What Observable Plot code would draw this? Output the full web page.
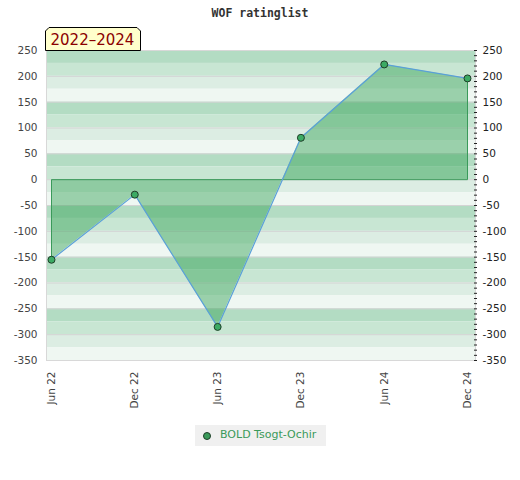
<!DOCTYPE html>
<html><head><meta charset="utf-8">
<script src="https://cdn.jsdelivr.net/npm/d3@7"></script>
<script src="https://cdn.jsdelivr.net/npm/@observablehq/plot@0.6"></script>
<style>
body{margin:0;background:#fff;}
#wrap{position:relative;width:520px;height:480px;font-family:"DejaVu Sans",sans-serif;}
#title{position:absolute;top:6px;left:0;width:520px;text-align:center;font:bold 11.5px "DejaVu Sans Mono",monospace;color:#333;}
#badge{position:absolute;left:45px;top:27px;}
#legend{position:absolute;left:195px;top:425px;width:131px;height:21px;background:#f0f0f0;}
#legend span.dot{position:absolute;left:8px;top:7px;width:6px;height:6px;border-radius:50%;background:#3a9a5a;border:1px solid #1e3d28;}
#legend span.lab{position:absolute;left:25px;top:3px;font-size:11px;color:#3a9a5a;white-space:nowrap;}
#chart{position:absolute;left:0;top:0;}
</style></head>
<body>
<div id="wrap">
  <div id="chart"></div>
  <div id="title">WOF ratinglist</div>
  <svg id="badge" width="97" height="25">
    <polygon points="4,0.5 92,0.5 95.5,4 95.5,23.5 0.5,23.5 0.5,4" fill="#ffffcc" stroke="#000" stroke-width="1"/>
    <text x="5.5" y="18" font-family="DejaVu Sans" font-size="15" fill="#8b0000">2022–2024</text>
  </svg>
  <div id="legend"><span class="dot"></span><span class="lab">BOLD Tsogt-Ochir</span></div>
</div>
<script>
const periods = ["2022-06-01","2022-12-01","2023-06-01","2023-12-01","2024-06-01","2024-12-01"];
const ratings = [-155, -29, -285, 81, 223, 196];
const yTicks = [-350,-300,-250,-200,-150,-100,-50,0,50,100,150,200,250];
const bandColors = ["#b3dcc3","#c8e6d3","#dcede3","#eff7f2"];

const data = periods.map((p,i)=>({date:new Date(p), value:ratings[i]}));
const bands = [];
for (let i = 0; i < 24; i++) {
  const top = 250 - i*25;
  bands.push({y1: top, y2: top - 25, fill: bandColors[i % 4]});
}
const minor = [];
for (let v = -350; v <= 250; v += 10) minor.push(v);
const first = data[0], last = data[data.length-1];
const outline = [
  {date: first.date, value: first.value},
  {date: first.date, value: 0},
  {date: last.date, value: 0},
  {date: last.date, value: last.value}
];

const chart = Plot.plot({
  width: 520, height: 480,
  marginTop: 50, marginBottom: 120, marginLeft: 46, marginRight: 45,
  style: {fontFamily: "DejaVu Sans", fontSize: "10.5px", color: "#444", background: "transparent"},
  x: {type: "utc", domain: [first.date, last.date], insetLeft: 5, insetRight: 8},
  y: {domain: [-350, 250]},
  marks: [
    Plot.rect(bands, {y1: "y1", y2: "y2", fill: "fill"}),
    Plot.ruleY(yTicks, {stroke: "#d4d4d4", strokeWidth: 1}),
    Plot.areaY(data, {x: "date", y: "value", fill: "#2ea050", fillOpacity: 0.44}),
    Plot.line(outline, {x: "date", y: "value", stroke: "#3a9a5a", strokeWidth: 1}),
    Plot.line(data, {x: "date", y: "value", stroke: "#5aa0d8", strokeWidth: 1.2}),
    Plot.dot(data, {x: "date", y: "value", r: 3.5, fill: "#3cab64", stroke: "#1e3d28", strokeWidth: 1}),
    Plot.frame({stroke: "#d8d8d8"}),
    Plot.axisY({anchor: "left", ticks: yTicks, tickSize: 0, tickPadding: 9, tickFormat: d => String(d), label: null, fill: "#444"}),
    Plot.axisY({anchor: "right", ticks: yTicks, tickSize: 0, tickPadding: 7, tickFormat: d => String(d), label: null, fill: "#222"}),
    Plot.axisY({anchor: "right", ticks: minor, tickSize: 3, tickFormat: () => "", label: null, stroke: "#222", dx: -2}),
    Plot.axisX({ticks: data.map(d=>d.date), tickFormat: d3.utcFormat("%b %y"), tickRotate: -90, tickSize: 0, tickPadding: 11, label: null, fill: "#444"})
  ]
});
document.getElementById("chart").appendChild(chart);
</script>
</body></html>
